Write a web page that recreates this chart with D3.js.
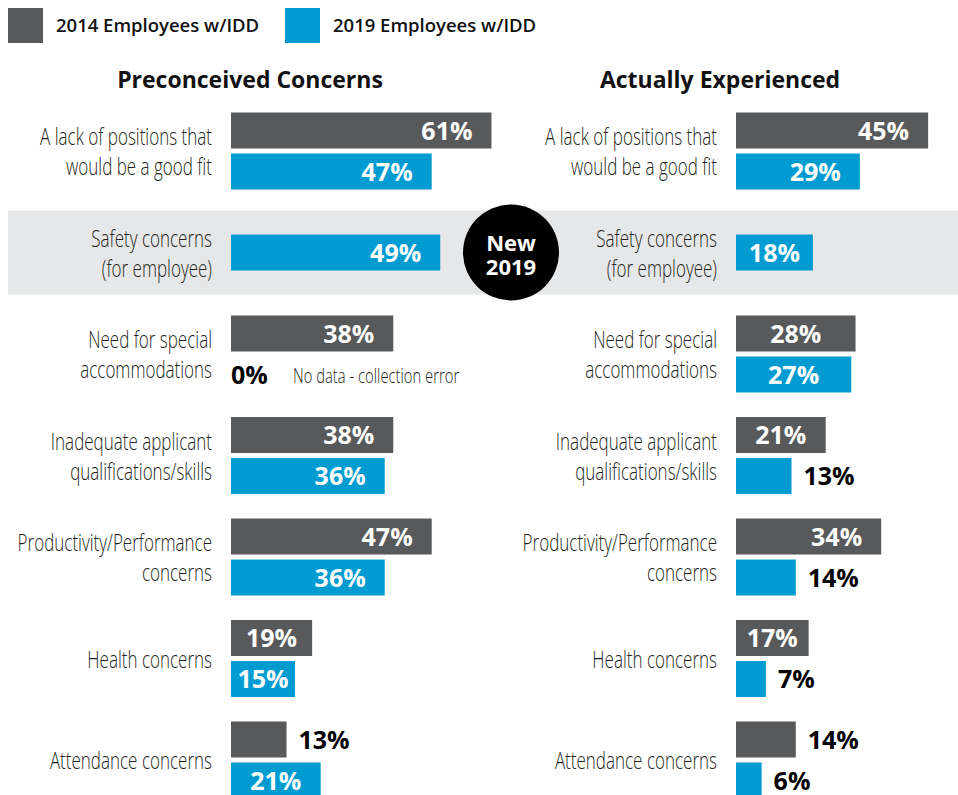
<!DOCTYPE html>
<html>
<head>
<meta charset="utf-8">
<script src="https://cdn.jsdelivr.net/npm/d3@7/dist/d3.min.js"></script>
<style>
    body { margin: 0; background: #fff; }
    svg { display: block; font-family: 'Open Sans', sans-serif; }
    .cat-label { font-weight: 300; font-size: 23px; fill: #231f20; }
    .value { font-weight: 700; font-size: 25px; }
    .title { font-weight: 700; font-size: 23px; fill: #111; }
    .legend-text { font-weight: 600; font-size: 18.5px; fill: #111; }
</style>
</head>
<body>
<div id="chart"></div>
<script>
/* * * * * * * * * * * * * *
 *   Concerns bar chart     *
 * * * * * * * * * * * * * */

// data
const categories = [
    ['A lack of positions that', 'would be a good fit'],
    ['Safety concerns', '(for employee)'],
    ['Need for special', 'accommodations'],
    ['Inadequate applicant', 'qualifications/skills'],
    ['Productivity/Performance', 'concerns'],
    ['Health concerns'],
    ['Attendance concerns'],
];
const preconceived2014 = [61, null, 38, 38, 47, 19, 13];
const preconceived2019 = [47, 49, 0, 36, 36, 15, 21];
const experienced2014 = [45, null, 28, 21, 34, 17, 14];
const experienced2019 = [29, 18, 27, 13, 14, 7, 6];
const seriesNames = ['2014 Employees w/IDD', '2019 Employees w/IDD'];
const panelTitles = ['Preconceived Concerns', 'Actually Experienced'];
const newBadge = ['New', '2019'];
const noDataNote = 'No data - collection error';

const gray = '#58595b';
const blue = '#009bd0';
const condense = 0.74;

const width = 958;
const height = 795;

let svg = d3
    .select('#chart')
    .append('svg')
    .attr('width', width)
    .attr('height', height);

// Scales
let rowIdx = categories.map((d, i) => i);
let y = d3.scalePoint().domain(rowIdx).range([151, 760]);
let yInner = d3.scaleBand().domain(['2014', '2019']).range([-38.5, 38.5]).paddingInner(5 / 41);

let panels = [
    { title: panelTitles[0], v2014: preconceived2014, v2019: preconceived2019, x0: 231, titleX: 250 },
    { title: panelTitles[1], v2014: experienced2014, v2019: experienced2019, x0: 736, titleX: 720 },
];
panels.forEach((p) => {
    p.x = d3.scaleLinear().domain([0, 100]).range([p.x0, p.x0 + 427]);
});

// "New 2019" band
let newRow = 1;
svg.append('rect')
    .attr('x', 8)
    .attr('y', y(newRow) - 42)
    .attr('width', width - 8)
    .attr('height', 84)
    .attr('fill', '#e6e7e8');

// Legend
let legend = svg.append('g');
seriesNames.forEach((name, i) => {
    let g = legend.append('g').attr('transform', `translate(${8 + i * 277},8)`);
    g.append('rect').attr('width', 35).attr('height', 35).attr('fill', i === 0 ? gray : blue);
    g.append('text').attr('class', 'legend-text').attr('x', 48).attr('y', 24).text(name);
});

panels.forEach((p) => {
    let g = svg.append('g');

    g.append('text')
        .attr('class', 'title')
        .attr('x', p.titleX)
        .attr('y', 88)
        .attr('text-anchor', 'middle')
        .text(p.title);

    // category labels
    categories.forEach((lines, i) => {
        let lg = g.append('g')
            .attr('transform', `translate(${p.x0 - 19},${y(i)}) scale(${condense},1)`);
        let base = lines.length === 2 ? -6 : 9;
        lines.forEach((line, j) => {
            lg.append('text')
                .attr('class', 'cat-label')
                .attr('text-anchor', 'end')
                .attr('y', base + j * 30)
                .text(line);
        });
    });

    // bars
    let bars = [];
    rowIdx.forEach((i) => {
        let single = p.v2014[i] === null;
        if (!single) bars.push({ row: i, year: '2014', value: p.v2014[i], color: gray, single: false });
        bars.push({ row: i, year: '2019', value: p.v2019[i], color: blue, single: single });
    });

    bars.forEach((d) => {
        d.top = d.single ? y(d.row) - yInner.bandwidth() / 2 : y(d.row) + yInner(d.year);
        d.mid = d.top + yInner.bandwidth() / 2;
        d.w = p.x(d.value) - p.x(0);
    });

    g.selectAll('.bar')
        .data(bars.filter((d) => d.value > 0))
        .enter()
        .append('rect')
        .attr('class', 'bar')
        .attr('x', p.x(0))
        .attr('y', (d) => d.top)
        .attr('width', (d) => d.w)
        .attr('height', yInner.bandwidth())
        .attr('fill', (d) => d.color);

    // value labels
    g.selectAll('.value')
        .data(bars)
        .enter()
        .append('text')
        .attr('class', 'value')
        .attr('y', (d) => d.mid + 9)
        .attr('x', (d) => {
            if (d.w >= 120) return p.x(d.value) - 19;
            if (d.w >= 60) return p.x(0) + d.w / 2;
            return d.value === 0 ? p.x(0) : p.x(d.value) + 12;
        })
        .attr('text-anchor', (d) => (d.w >= 120 ? 'end' : d.w >= 60 ? 'middle' : 'start'))
        .attr('fill', (d) => (d.w >= 60 ? '#fff' : '#000'))
        .text((d) => d.value + '%');

    // note for missing value
    bars.filter((d) => d.value === 0).forEach((d) => {
        g.append('g')
            .attr('transform', `translate(${p.x(0) + 62},${d.mid + 8}) scale(${condense},1)`)
            .append('text')
            .attr('class', 'cat-label')
            .style('font-size', '20px')
            .text(noDataNote);
    });
});

// badge
let badge = svg.append('g').attr('transform', `translate(511,${y(newRow)})`);
badge.append('circle').attr('r', 48).attr('fill', '#000');
newBadge.forEach((t, i) => {
    badge.append('text')
        .attr('text-anchor', 'middle')
        .attr('y', -2 + i * 24)
        .attr('fill', '#fff')
        .style('font-weight', 700)
        .style('font-size', '22px')
        .text(t);
});
</script>
</body>
</html>
